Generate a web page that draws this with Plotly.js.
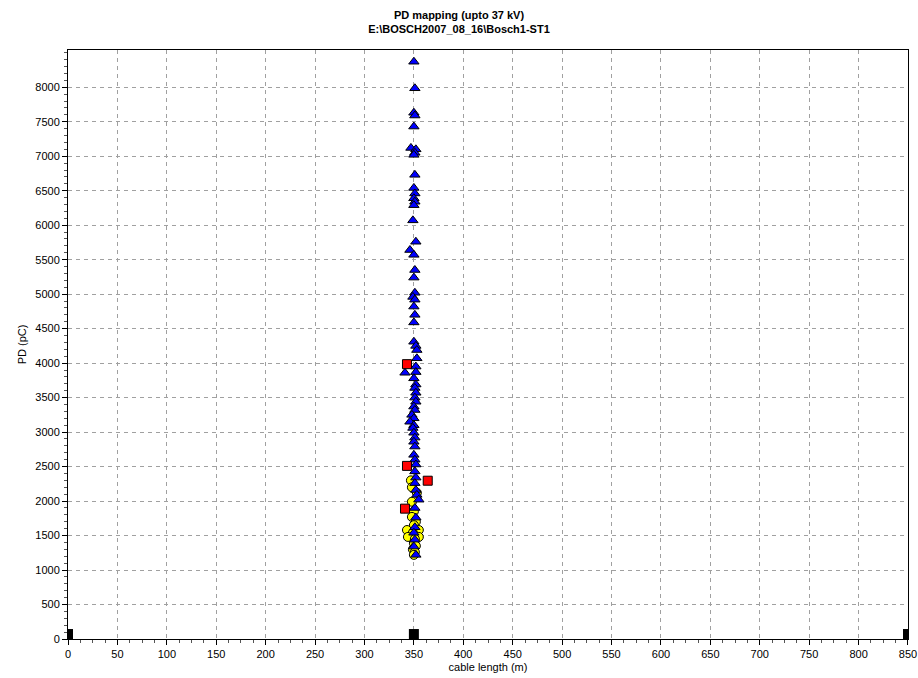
<!DOCTYPE html>
<html>
<head>
<meta charset="utf-8">
<script src="https://cdn.plot.ly/plotly-3.0.1.min.js"></script>
<style>html,body{margin:0;padding:0;background:#fff;}#chart{width:918px;height:678px;}</style>
</head>
<body>
<div id="chart"></div>
<script>
// Blue triangles (cable length m, PD pC)
const blueX = [350,351,350,351,350,347,352,351,350,351,350,351,350,351,350,349,352,346,350,351,350,351,349,351,350,351,350,
  350,352,353,353,352,341,352,350,352,351,352,351,352,350,351,348,350,346,350,349,350,351,350,351,350,351,352,351,352,351,352,353,355,351,352,351,350,351,350,352];
const blueY = [8370,7985,7630,7590,7430,7120,7100,7050,7020,6730,6540,6460,6390,6340,6290,6070,5760,5640,5570,5350,5240,5020,4960,4920,4820,4700,4590,
  4310,4250,4190,4070,3950,3860,3870,3780,3690,3640,3570,3500,3440,3370,3320,3250,3200,3150,3100,3060,2990,2920,2860,2790,2670,2600,2530,2430,2340,2260,2160,2090,2020,1900,1760,1620,1540,1440,1340,1220];
// Yellow circles
const yellowX = [347,348,353,348,350,348,352,350,343,355,349,344,355,351,350,352,349,351,350];
const yellowY = [2300,2200,2120,1990,1850,1770,1700,1650,1580,1580,1540,1480,1480,1450,1390,1350,1300,1260,1220];
// Red squares
const redX = [343,343,364,341];
const redY = [3985,2510,2295,1890];
// Black end / joint markers on the cable
const endX = [0,350,850];
const endY = [72,72,72];

const xTicks = [];
for (let v = 0; v <= 850; v += 50) xTicks.push(v);
const yTicks = [];
for (let v = 0; v <= 8000; v += 500) yTicks.push(v);

const line = {color:'#000', width:1};
const traces = [
  {x: yellowX, y: yellowY, type:'scatter', mode:'markers',
   marker:{symbol:'circle', size:9, color:'#ffff00', line:line}},
  {x: blueX, y: blueY, type:'scatter', mode:'markers',
   marker:{symbol:'triangle-up', size:9, color:'#0000ff', line:line}},
  {x: redX, y: redY, type:'scatter', mode:'markers',
   marker:{symbol:'square', size:9, color:'#ff0000', line:line}},
  {x: endX, y: endY, type:'scatter', mode:'markers',
   marker:{symbol:'square', size:10, color:'#000', line:{color:'#000', width:0}}}
];

const font = {family:'"Liberation Sans", Arial, sans-serif', size:11, color:'#000'};
const layout = {
  width:918, height:678,
  margin:{l:68, r:10, t:50, b:39},
  paper_bgcolor:'#fff', plot_bgcolor:'#fff',
  showlegend:false,
  font: font,
  title:{text:'<b>PD mapping (upto 37 kV)<br>E:\\BOSCH2007_08_16\\Bosch1-ST1</b>',
    font:{family:'"Liberation Sans", Arial, sans-serif', size:11, color:'#000'},
    x:0.5, xref:'container', xanchor:'center', y:0.972, yref:'container', yanchor:'top'},
  xaxis:{range:[-0.01,850.01], tickvals:xTicks, ticktext:xTicks.map(String),
    ticklabeloverflow:'allow',
    showline:true, mirror:true, linecolor:'#000', linewidth:1,
    ticks:'outside', ticklen:5, tickcolor:'#000',
    minor:{dtick:12.5, tick0:0, ticks:'outside', ticklen:3, tickcolor:'#555', showgrid:false},
    showgrid:true, gridcolor:'#a0a0a0', griddash:'4px,4px', gridwidth:1,
    zeroline:false, tickfont:font,
    title:{text:'cable length (m)', font:font, standoff:4}},
  yaxis:{range:[0,8540], tickvals:yTicks, ticktext:yTicks.map(String),
    showline:true, mirror:true, linecolor:'#000', linewidth:1,
    ticks:'outside', ticklen:5, tickcolor:'#000',
    minor:{dtick:100, ticks:'outside', ticklen:3, tickcolor:'#555', showgrid:false},
    showgrid:true, gridcolor:'#a0a0a0', griddash:'4px,4px', gridwidth:1,
    zeroline:false, tickfont:font,
    title:{text:'PD (pC)', font:font, standoff:6}}
};

Plotly.newPlot('chart', traces, layout, {displayModeBar:false, staticPlot:true});
</script>
</body>
</html>
